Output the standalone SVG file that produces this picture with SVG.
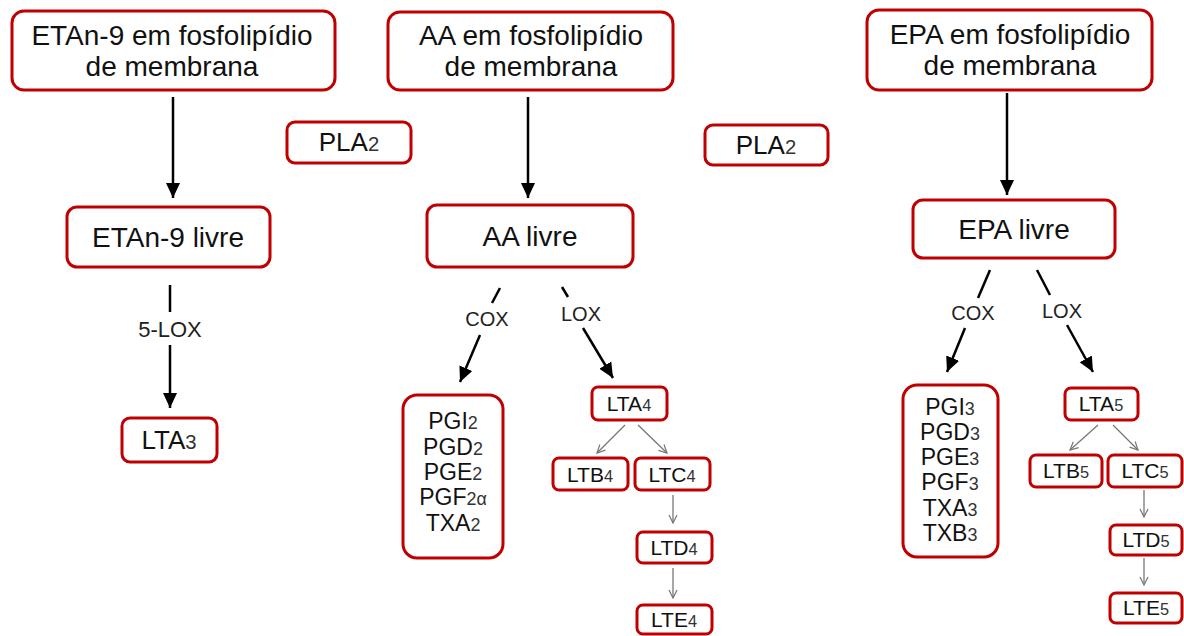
<svg xmlns="http://www.w3.org/2000/svg" width="1184" height="636" viewBox="0 0 1184 636">
<defs>
<marker id="ah" markerUnits="userSpaceOnUse" markerWidth="16" markerHeight="16" viewBox="0 0 16 16" refX="15" refY="8" orient="auto">
<path d="M0,1 L15,8 L0,15 Z" fill="#000"/>
</marker>
<marker id="ag" markerUnits="userSpaceOnUse" markerWidth="10" markerHeight="10" viewBox="0 0 10 10" refX="9" refY="5" orient="auto">
<path d="M1,1 L9,5 L1,9" fill="none" stroke="#777" stroke-width="1.2"/>
</marker>
<style>
.box{fill:#fff;stroke:#c00000;stroke-width:3}
.t{font-family:"Liberation Sans",Arial,sans-serif;fill:#111;text-anchor:middle}
.big{font-size:28px}
.med{font-size:26px}
.pg{font-size:23px}
.sm{font-size:21px}
.lab{font-size:20px;fill:#222}
.lab5{font-size:22px;fill:#222}
.sub{font-size:0.78em;fill:#333}
.k{stroke:#000;stroke-width:2.5;fill:none}
.kl{stroke:#000;stroke-width:2.5;fill:none}
.g{stroke:#777;stroke-width:1.3;fill:none}
</style>
</defs>
<rect width="1184" height="636" fill="#fff"/>

<g id="connectors">
<line class="k" x1="173" y1="97" x2="173" y2="198" marker-end="url(#ah)"/>
<line class="k" x1="528" y1="97" x2="528" y2="198" marker-end="url(#ah)"/>
<line class="k" x1="1007" y1="93" x2="1007" y2="195" marker-end="url(#ah)"/>
<line class="kl" x1="170" y1="285" x2="170" y2="312"/>
<line class="k" x1="170" y1="345" x2="170" y2="408" marker-end="url(#ah)"/>
<line class="kl" x1="500" y1="288" x2="492" y2="303"/>
<line class="k" x1="480" y1="335" x2="460" y2="382" marker-end="url(#ah)"/>
<line class="kl" x1="562" y1="287" x2="568" y2="297"/>
<line class="k" x1="583" y1="328" x2="613" y2="378" marker-end="url(#ah)"/>
<line class="kl" x1="990" y1="270" x2="978" y2="298"/>
<line class="k" x1="965" y1="328" x2="947" y2="372" marker-end="url(#ah)"/>
<line class="kl" x1="1037" y1="270" x2="1050" y2="295"/>
<line class="k" x1="1067" y1="325" x2="1093" y2="372" marker-end="url(#ah)"/>
<line class="g" x1="625" y1="425" x2="597" y2="453" marker-end="url(#ag)"/>
<line class="g" x1="638" y1="425" x2="667" y2="453" marker-end="url(#ag)"/>
<line class="g" x1="673" y1="495" x2="673" y2="523" marker-end="url(#ag)"/>
<line class="g" x1="673" y1="568" x2="673" y2="598" marker-end="url(#ag)"/>
<line class="g" x1="1098" y1="425" x2="1070" y2="450" marker-end="url(#ag)"/>
<line class="g" x1="1113" y1="425" x2="1138" y2="450" marker-end="url(#ag)"/>
<line class="g" x1="1144" y1="490" x2="1144" y2="517" marker-end="url(#ag)"/>
<line class="g" x1="1144" y1="558" x2="1144" y2="585" marker-end="url(#ag)"/>
<text class="t lab5" x="170" y="337">5-LOX</text>
<text class="t lab" x="487" y="326">COX</text>
<text class="t lab" x="581" y="321">LOX</text>
<text class="t lab" x="973" y="320">COX</text>
<text class="t lab" x="1062" y="318">LOX</text>
</g>

<g id="etan9-membrana">
<rect class="box" x="12" y="11" width="323" height="79" rx="12"/>
<text class="t big" x="172" y="45">ETAn-9 em fosfolipídio</text>
<text class="t big" x="172" y="76">de membrana</text>
</g>
<g id="aa-membrana">
<rect class="box" x="388" y="12" width="285" height="78" rx="12"/>
<text class="t big" x="531" y="45">AA em fosfolipídio</text>
<text class="t big" x="531" y="76">de membrana</text>
</g>
<g id="epa-membrana">
<rect class="box" x="867" y="10" width="285" height="80" rx="12"/>
<text class="t big" x="1010" y="44">EPA em fosfolipídio</text>
<text class="t big" x="1010" y="75">de membrana</text>
</g>
<g id="pla2-left">
<rect class="box" x="287" y="122" width="124" height="41" rx="8"/>
<text class="t med" x="349" y="151">PLA<tspan class="sub">2</tspan></text>
</g>
<g id="pla2-right">
<rect class="box" x="705" y="125" width="123" height="40" rx="8"/>
<text class="t med" x="766" y="154">PLA<tspan class="sub">2</tspan></text>
</g>
<g id="etan9-livre">
<rect class="box" x="67" y="207" width="203" height="60" rx="10"/>
<text class="t big" x="168" y="247">ETAn-9 livre</text>
</g>
<g id="aa-livre">
<rect class="box" x="427" y="205" width="206" height="62" rx="10"/>
<text class="t big" x="530" y="246">AA livre</text>
</g>
<g id="epa-livre">
<rect class="box" x="913" y="200" width="202" height="58" rx="10"/>
<text class="t big" x="1014" y="239">EPA livre</text>
</g>
<g id="lta3">
<rect class="box" x="122" y="418" width="95" height="44" rx="8"/>
<text class="t med" x="169" y="449">LTA<tspan class="sub">3</tspan></text>
</g>
<g id="pg2-series">
<rect class="box" x="403" y="395" width="100" height="163" rx="14"/>
<text class="t pg" x="453" y="429">PGI<tspan class="sub">2</tspan></text>
<text class="t pg" x="453" y="455">PGD<tspan class="sub">2</tspan></text>
<text class="t pg" x="453" y="480">PGE<tspan class="sub">2</tspan></text>
<text class="t pg" x="453" y="505">PGF<tspan class="sub">2α</tspan></text>
<text class="t pg" x="453" y="531">TXA<tspan class="sub">2</tspan></text>
</g>
<g id="lta4">
<rect class="box" x="592" y="387" width="75" height="33" rx="6"/>
<text class="t sm" x="629" y="411">LTA<tspan class="sub">4</tspan></text>
</g>
<g id="ltb4">
<rect class="box" x="553" y="458" width="75" height="32" rx="6"/>
<text class="t sm" x="590" y="482">LTB<tspan class="sub">4</tspan></text>
</g>
<g id="ltc4">
<rect class="box" x="635" y="458" width="75" height="32" rx="6"/>
<text class="t sm" x="672" y="482">LTC<tspan class="sub">4</tspan></text>
</g>
<g id="ltd4">
<rect class="box" x="637" y="532" width="75" height="31" rx="6"/>
<text class="t sm" x="674" y="555">LTD<tspan class="sub">4</tspan></text>
</g>
<g id="lte4">
<rect class="box" x="637" y="605" width="75" height="29" rx="6"/>
<text class="t sm" x="674" y="627">LTE<tspan class="sub">4</tspan></text>
</g>
<g id="pg3-series">
<rect class="box" x="903" y="385" width="95" height="172" rx="14"/>
<text class="t pg" x="950" y="415">PGI<tspan class="sub">3</tspan></text>
<text class="t pg" x="950" y="440">PGD<tspan class="sub">3</tspan></text>
<text class="t pg" x="950" y="465">PGE<tspan class="sub">3</tspan></text>
<text class="t pg" x="950" y="490">PGF<tspan class="sub">3</tspan></text>
<text class="t pg" x="950" y="516">TXA<tspan class="sub">3</tspan></text>
<text class="t pg" x="950" y="541">TXB<tspan class="sub">3</tspan></text>
</g>
<g id="lta5">
<rect class="box" x="1065" y="388" width="73" height="32" rx="6"/>
<text class="t sm" x="1101" y="411">LTA<tspan class="sub">5</tspan></text>
</g>
<g id="ltb5">
<rect class="box" x="1030" y="455" width="72" height="32" rx="6"/>
<text class="t sm" x="1066" y="478">LTB<tspan class="sub">5</tspan></text>
</g>
<g id="ltc5">
<rect class="box" x="1108" y="455" width="74" height="32" rx="6"/>
<text class="t sm" x="1145" y="478">LTC<tspan class="sub">5</tspan></text>
</g>
<g id="ltd5">
<rect class="box" x="1110" y="525" width="72" height="30" rx="6"/>
<text class="t sm" x="1146" y="547">LTD<tspan class="sub">5</tspan></text>
</g>
<g id="lte5">
<rect class="box" x="1110" y="593" width="72" height="30" rx="6"/>
<text class="t sm" x="1146" y="615">LTE<tspan class="sub">5</tspan></text>
</g>
</svg>
